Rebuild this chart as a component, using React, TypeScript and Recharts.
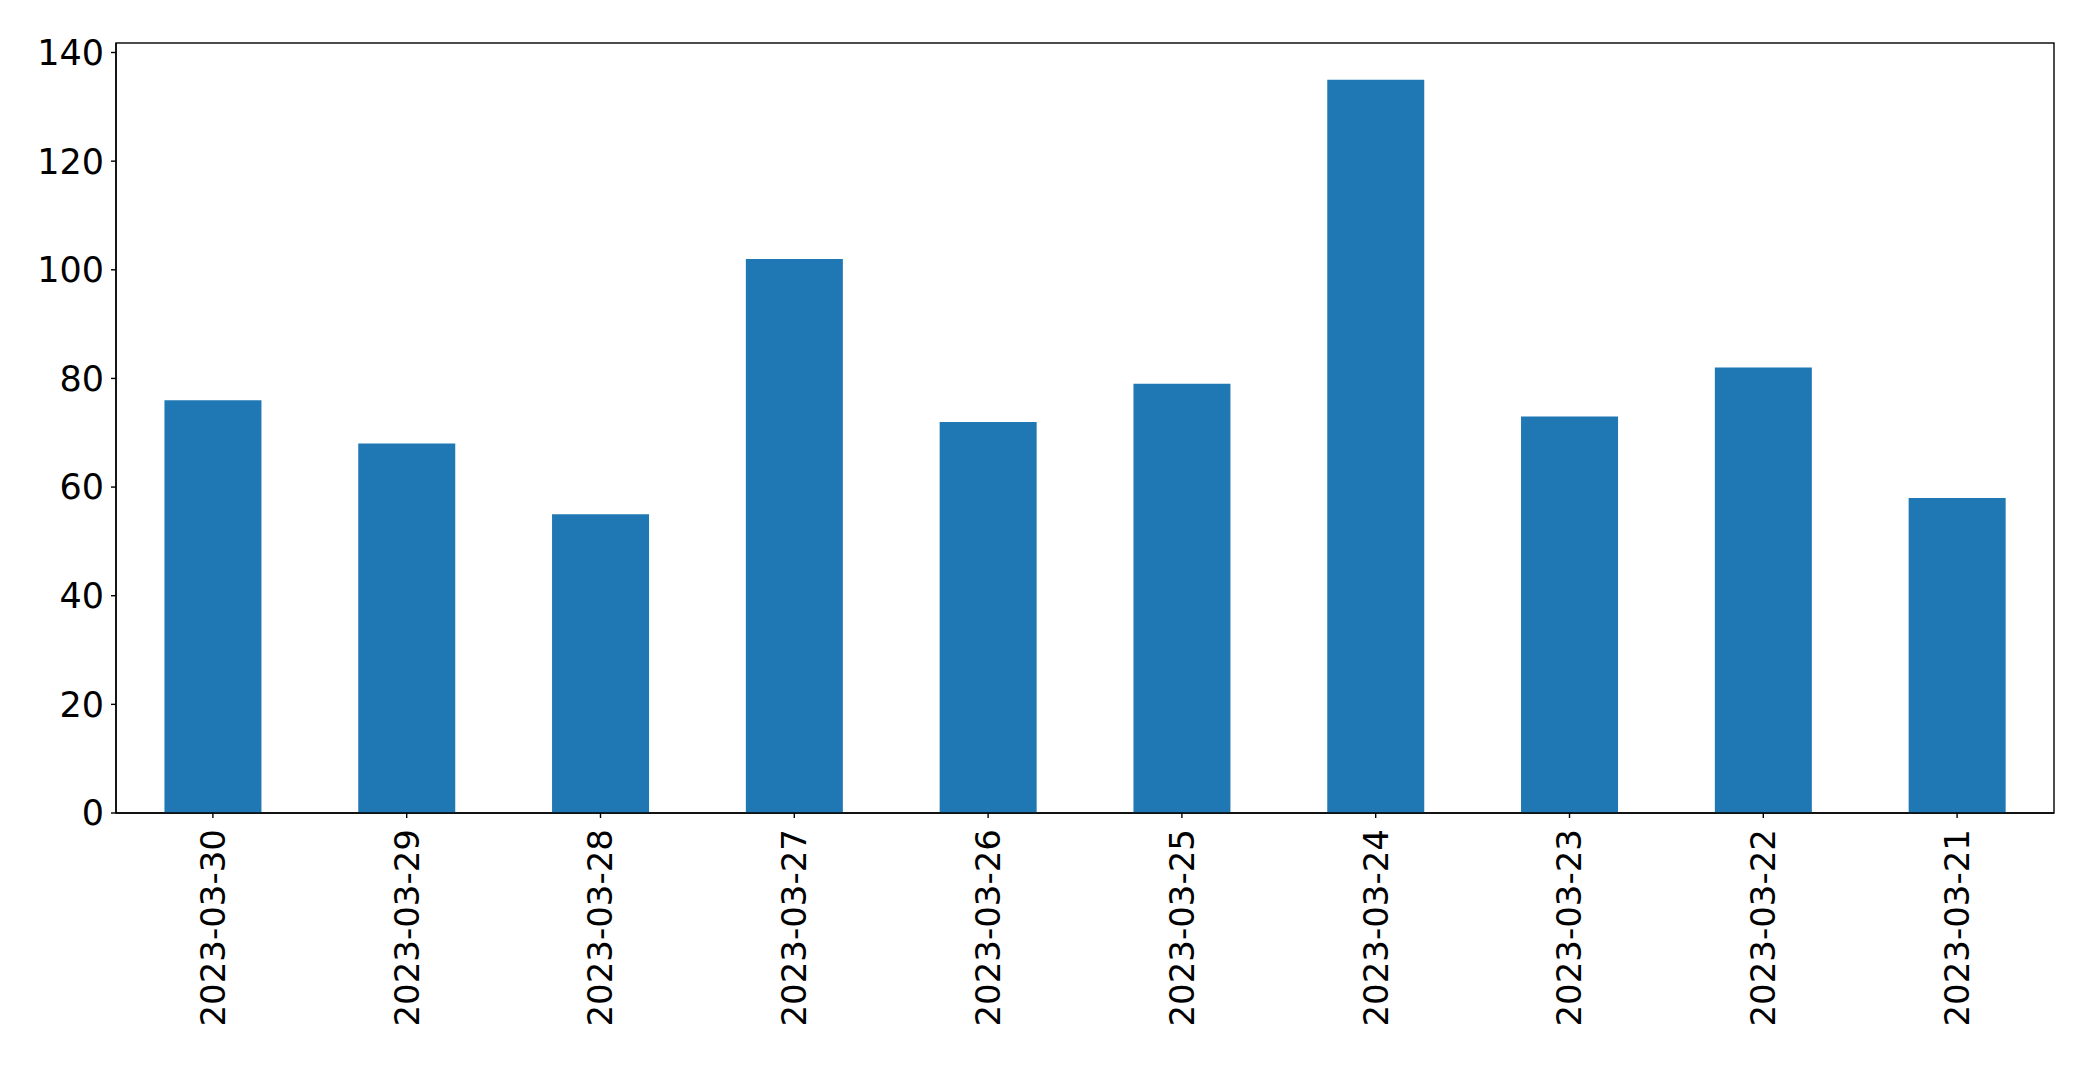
import { BarChart, Bar, XAxis, YAxis, usePlotArea } from "recharts";

const dates = [
  "2023-03-30",
  "2023-03-29",
  "2023-03-28",
  "2023-03-27",
  "2023-03-26",
  "2023-03-25",
  "2023-03-24",
  "2023-03-23",
  "2023-03-22",
  "2023-03-21",
];

const counts = [76, 68, 55, 102, 72, 79, 135, 73, 82, 58];

const yTicks = [0, 20, 40, 60, 80, 100, 120, 140];

const FONT = "DejaVu Sans";

const RotatedTick = (props: any) => {
  const { x, y, payload } = props;
  return (
    <text
      transform={`translate(${x},${y + 9}) rotate(-90)`}
      textAnchor="end"
      dy="0.35em"
      fontSize={34}
      fontFamily={FONT}
      fill="#000"
    >
      {payload.value}
    </text>
  );
};

// plot frame (matplotlib style box around the axes)
const Frame = () => {
  const area = usePlotArea ? usePlotArea() : null;
  if (!area) return null;
  return (
    <rect
      x={area.x}
      y={area.y}
      width={area.width}
      height={area.height}
      fill="none"
      stroke="#000"
      strokeWidth={1.4}
    />
  );
};

export default function App() {
  const data = dates.map((d, i) => ({ date: d, value: counts[i] }));

  return (
    <div style={{ position: "absolute", left: 0, top: 0, background: "#fff" }}>
      <BarChart
        width={2093}
        height={1065}
        data={data}
        margin={{ top: 43, right: 39, left: 0, bottom: 0 }}
        barCategoryGap="25%"
      >
        <XAxis
          dataKey="date"
          height={252}
          interval={0}
          tick={<RotatedTick />}
          tickSize={5}
          axisLine={{ stroke: "#000", strokeWidth: 1.4 }}
          tickLine={{ stroke: "#000", strokeWidth: 1.4 }}
        />
        <YAxis
          width={116}
          domain={[0, 141.75]}
          ticks={yTicks}
          interval={0}
          tickSize={5}
          tickMargin={7}
          tick={{ fontSize: 35, fontFamily: FONT, fill: "#000" }}
          axisLine={{ stroke: "#000", strokeWidth: 1.4 }}
          tickLine={{ stroke: "#000", strokeWidth: 1.4 }}
        />
        <Bar dataKey="value" fill="#1f77b4" isAnimationActive={false} />
        <Frame />
      </BarChart>
    </div>
  );
}
